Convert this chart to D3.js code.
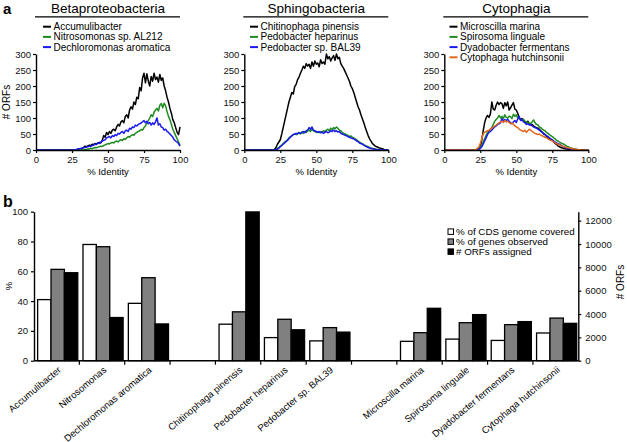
<!DOCTYPE html>
<html><head><meta charset="utf-8">
<script src="https://cdn.jsdelivr.net/npm/d3@7"></script>
<style>
body{margin:0;background:#fff;}
svg{display:block;font-family:"Liberation Sans",Arial,sans-serif;}
</style></head><body>
<svg id="c" width="627" height="442"></svg>
<script>
// ---------- Panel a data: # ORFs per % identity bin (0..100) ----------
const identityTicks = [0, 25, 50, 75, 100];
const orfTicks = [0, 50, 100, 150, 200, 250, 300];

const accumulibacter = [
0,0,0,0,0,0,0,0,0,0, 0,0,0,0,0,0,0,0,0,0, 0,0,0,0,0,0,0,0,1,2,
2,4,5,8,12,10,13,15,14,18, 17,20,19,22,24,22,30,45,40,55,
48,58,52,62,65,60,72,80,75,88, 92,85,105,110,100,125,135,128,150,142,
165,160,195,185,225,240,210,238,215,200, 230,215,240,220,228,212,236,218,225,200,
185,165,150,130,115,95,85,70,55,48, 72];
const nitrosomonas = [
0,0,0,0,0,0,0,0,0,0, 0,0,0,0,0,0,0,0,0,0, 0,0,0,0,0,0,0,0,0,0,
0,0,0,0,1,2,3,4,5,5, 6,8,7,9,10,12,11,14,16,18,
20,19,22,24,22,26,28,25,30,32, 30,35,33,38,42,40,45,48,46,52,
55,58,60,64,62,70,75,85,92,100, 110,105,118,125,130,122,140,145,132,146,
138,120,105,95,80,65,55,45,35,25, 15];
const dechloromonas = [
0,0,0,0,0,0,0,0,0,0, 0,0,0,0,0,0,0,0,0,0, 0,0,0,0,0,0,0,0,2,3,
4,5,6,7,8,9,10,12,11,14, 15,18,17,22,20,25,28,30,32,38,
40,42,38,45,42,48,45,52,50,55, 58,52,60,62,58,68,65,72,70,78,
75,80,82,85,88,92,85,90,82,86, 78,85,80,88,100,78,82,72,70,62,
65,58,55,50,45,40,32,28,25,20, 12];

const chitinophaga = [
0,0,0,0,0,0,0,0,0,0, 0,0,0,0,0,0,0,0,0,0, 0,2,8,18,25,32,50,70,90,110,
130,150,165,180,175,198,205,220,228,240, 250,262,255,270,262,268,255,275,262,278,
268,272,260,282,270,275,268,300,285,292, 278,288,295,280,300,285,290,270,262,255,
245,235,225,215,200,192,180,165,150,135, 125,110,98,85,70,58,45,35,28,20,
16,12,10,8,6,5,4,2,1,0, 0];
const pedoHeparinus = [
0,0,0,0,0,0,0,0,0,0, 0,0,0,0,0,0,0,0,0,0, 0,0,2,5,8,12,15,20,25,28,
32,38,42,45,48,50,48,52,55,50, 56,52,58,55,60,62,58,65,60,58,
55,57,54,58,56,60,58,62,65,60, 68,64,70,66,72,68,62,60,55,52,
50,48,45,42,44,40,38,35,32,28, 25,22,20,16,14,12,10,8,6,5,
4,3,2,1,1,0,0,0,0,0, 0];
const pedoBAL39 = [
0,0,0,0,0,0,0,0,0,0, 0,0,0,0,0,0,0,0,0,0, 0,0,1,3,6,10,14,18,22,26,
30,35,40,44,48,50,52,50,54,52, 55,58,54,60,62,70,65,72,62,60,
58,55,58,54,56,52,55,58,54,56, 60,58,62,58,60,56,58,52,50,48,
46,44,42,40,38,36,35,32,28,26, 22,20,18,15,12,10,8,6,5,4,
3,2,1,1,0,0,0,0,0,0, 0];

const microscilla = [
0,0,0,0,0,0,0,0,0,0, 0,0,0,0,0,0,0,0,0,0, 0,0,0,3,5,10,30,60,85,100,
108,102,112,150,128,125,140,150,142,148, 145,130,148,138,150,125,132,140,148,128,
125,115,100,95,98,92,88,85,90,82, 78,80,75,72,70,68,65,60,56,50,
48,42,40,35,32,30,25,20,18,12, 10,8,6,5,4,3,2,1,0,0,
0,0,0,0,0,0,0,0,0,0, 0];
const spirosoma = [
0,0,0,0,0,0,0,0,0,0, 0,0,0,0,0,0,0,0,0,0, 0,0,0,0,3,8,15,25,35,45,
55,60,65,70,80,90,95,100,108,100, 105,98,110,102,100,106,104,98,112,105,
110,100,98,95,92,96,90,88,86,85, 82,88,94,85,80,78,72,70,65,62,
60,55,52,48,45,42,38,35,30,28, 25,22,20,18,15,12,10,8,6,5,
4,3,2,1,0,0,0,0,0,0, 0];
const dyadobacter = [
0,0,0,0,0,0,0,0,0,0, 0,0,0,0,0,0,0,0,0,0, 0,0,0,0,2,5,10,18,28,38,
48,55,58,62,68,72,75,80,82,85, 98,90,95,92,96,90,85,82,88,92,
86,98,105,92,95,88,85,80,82,78, 80,75,72,70,68,65,62,58,55,52,
48,45,42,38,35,32,28,25,22,20, 18,15,12,10,8,6,5,4,3,2,
1,0,0,0,0,0,0,0,0,0, 0];
const cytophaga = [
0,0,0,0,0,0,0,0,0,0, 0,0,0,0,0,0,0,0,0,0, 0,0,2,5,10,20,35,50,55,58,
60,62,65,68,72,75,78,82,85,88, 90,86,92,88,90,86,82,85,80,76,
72,70,65,62,60,58,62,55,60,65, 62,58,55,52,50,48,50,46,44,42,
40,38,35,32,30,28,25,22,20,18, 16,14,12,10,9,8,7,6,5,4,
3,2,2,1,1,0,0,0,0,0, 0];

const panelTitles = ["Betaproteobacteria", "Sphingobacteria", "Cytophagia"];
const panelSeries = [
  [["Accumulibacter", accumulibacter, "#000000"],
   ["Nitrosomonas sp. AL212", nitrosomonas, "#1f8a1f"],
   ["Dechloromonas aromatica", dechloromonas, "#1a1aee"]],
  [["Chitinophaga pinensis", chitinophaga, "#000000"],
   ["Pedobacter heparinus", pedoHeparinus, "#1f8a1f"],
   ["Pedobacter sp. BAL39", pedoBAL39, "#1a1aee"]],
  [["Microscilla marina", microscilla, "#000000"],
   ["Spirosoma linguale", spirosoma, "#1f8a1f"],
   ["Dyadobacter fermentans", dyadobacter, "#1a1aee"],
   ["Cytophaga hutchinsonii", cytophaga, "#e2691f"]]
];

// ---------- Panel b data ----------
const groupNames = [
  ["Accumulibacter", "Nitrosomonas", "Dechloromonas aromatica"],
  ["Chitinophaga pinensis", "Pedobacter heparinus", "Pedobacter sp. BAL39"],
  ["Microscilla marina", "Spirosoma linguale", "Dyadobacter fermentans", "Cytophaga hutchinsonii"]
];
const pctCdsCovered   = [41, 78, 38.5, 24.5, 15.5, 13.3, 13, 14.5, 13.6, 18.6];
const pctGenesObserved = [61.3, 76.5, 55.7, 32.8, 27.8, 22.2, 18.8, 25.5, 24.2, 28.6];
const orfsAssigned    = [7540, 3700, 3150, 12750, 2650, 2450, 4490, 3950, 3350, 3200];
const pctTicks = [0, 20, 40, 60, 80, 100];
const orfAxisTicks = [0, 2000, 4000, 6000, 8000, 10000, 12000];
const barLegend = ["% of CDS genome covered", "% of genes observed", "# ORFs assigned"];

// ======================================================
const svg = d3.select("#c");
const FONT = "Liberation Sans, Arial, sans-serif";

svg.append("text").attr("x", 3).attr("y", 13.5).attr("font-size", 15).attr("font-weight", "bold").text("a");
svg.append("text").attr("x", 3).attr("y", 207).attr("font-size", 16).attr("font-weight", "bold").text("b");

const plotLeft = [36, 244.3, 444.3];
const plotW = 144, yTop = 54, yBot = 150;
const ident = d3.range(0, 101);

panelSeries.forEach((series, p) => {
  const x0 = plotLeft[p];
  const x = d3.scaleLinear().domain([0, 100]).range([x0, x0 + plotW]);
  const y = d3.scaleLinear().domain([0, 300]).range([yBot, yTop]);
  const g = svg.append("g");

  // title + underline
  g.append("text").attr("x", x0 + plotW / 2).attr("y", 13).attr("text-anchor", "middle")
    .attr("font-size", 13.5).text(panelTitles[p]);
  g.append("line").attr("x1", x0 - 1).attr("x2", x0 + plotW).attr("y1", 16.8).attr("y2", 16.8)
    .attr("stroke", "#000").attr("stroke-width", 1.3);

  // legend
  const lx = [43, 250, 449.5][p];
  series.forEach((s, i) => {
    const ly = 26.7 + i * 10.2;
    g.append("line").attr("x1", lx).attr("x2", lx + 8).attr("y1", ly).attr("y2", ly)
      .attr("stroke", s[2]).attr("stroke-width", 2);
    g.append("text").attr("x", lx + 10.5).attr("y", ly + 3.5).attr("font-size", 10).text(s[0]);
  });

  // lines
  series.forEach(s => {
    const line = d3.line().x((d, i) => x(ident[i])).y(d => y(d));
    g.append("path").datum(s[1]).attr("d", line).attr("fill", "none")
      .attr("stroke", s[2]).attr("stroke-width", 1.5).attr("stroke-linejoin", "round");
  });

  // axes
  const ya = g.append("g").attr("transform", `translate(${x0},0)`)
    .call(d3.axisLeft(y).tickValues(orfTicks).tickSize(3).tickPadding(2).tickSizeOuter(0));
  const xa = g.append("g").attr("transform", `translate(0,${yBot})`)
    .call(d3.axisBottom(x).tickValues(identityTicks).tickSize(3).tickPadding(3).tickSizeOuter(0));
  [ya, xa].forEach(a => {
    a.select(".domain").attr("stroke-width", 1.4);
    a.selectAll(".tick line").attr("stroke-width", 1.2);
    a.selectAll("text").attr("font-size", 9.5).attr("font-family", FONT).attr("fill", "#111");
  });

  g.append("text").attr("x", x0 + plotW / 2).attr("y", 175).attr("text-anchor", "middle")
    .attr("font-size", 9.5).text("% Identity");
  if (p === 0) {
    g.append("text").attr("transform", "translate(10,102) rotate(-90)").attr("text-anchor", "middle")
      .attr("font-size", 10).text("# ORFs");
  }
});

// ---------- Panel b ----------
const bLeft = 34, bRight = 578.3, bTop = 211.7, bBot = 360.7;
const slots = [];
groupNames.forEach((grp, gi) => {
  grp.forEach(n => slots.push(n));
  if (gi < groupNames.length - 1) slots.push("__gap" + gi);
});
const cats = groupNames.flat();
const xb = d3.scaleBand().domain(slots).range([bLeft, bRight]).padding(0);
const bw = xb.bandwidth();
const sub = d3.scaleBand().domain([0, 1, 2]).range([bw * 0.08, bw * 0.965]).padding(0);
const yPct = d3.scaleLinear().domain([0, 100]).range([bBot, bTop]);
const yOrf = d3.scaleLinear().domain([0, 12770]).range([bBot, bTop]);

const gb = svg.append("g");
const fills = ["#ffffff", "#808080", "#000000"];
cats.forEach((c, i) => {
  const vals = [[pctCdsCovered[i], yPct], [pctGenesObserved[i], yPct], [orfsAssigned[i], yOrf]];
  vals.forEach((v, k) => {
    const yv = v[1](v[0]);
    gb.append("rect").attr("x", xb(c) + sub(k)).attr("y", yv)
      .attr("width", sub.bandwidth()).attr("height", bBot - yv)
      .attr("fill", fills[k]).attr("stroke", "#000").attr("stroke-width", 1.3);
  });
});

// x axis line + ticks between categories
gb.append("line").attr("x1", bLeft).attr("x2", bRight).attr("y1", bBot).attr("y2", bBot)
  .attr("stroke", "#000").attr("stroke-width", 1.4);
slots.forEach((s, i) => {
  if (i === 0) return;
  const xx = xb(s);
  gb.append("line").attr("x1", xx).attr("x2", xx).attr("y1", bBot).attr("y2", bBot + 4)
    .attr("stroke", "#000").attr("stroke-width", 1.2);
});
// category labels
cats.forEach(c => {
  const cx = xb(c) + bw / 2 + 5;
  gb.append("text").attr("transform", `translate(${cx},371) rotate(-40)`)
    .attr("text-anchor", "end").attr("font-size", 9.5).text(c);
});

const la = gb.append("g").attr("transform", `translate(${bLeft},0)`)
  .call(d3.axisLeft(yPct).tickValues(pctTicks).tickSize(3).tickPadding(3).tickSizeOuter(0));
const ra = gb.append("g").attr("transform", `translate(${bRight},0)`)
  .call(d3.axisRight(yOrf).tickValues(orfAxisTicks).tickFormat(d3.format("d"))
    .tickSize(3).tickPadding(4).tickSizeOuter(0));
[la, ra].forEach(a => {
  a.select(".domain").attr("stroke-width", 1.4);
  a.selectAll(".tick line").attr("stroke-width", 1.2);
  a.selectAll("text").attr("font-size", 9.5).attr("font-family", FONT).attr("fill", "#111");
});
gb.append("text").attr("transform", "translate(12,286) rotate(-90)").attr("text-anchor", "middle")
  .attr("font-size", 9.5).text("%");
gb.append("text").attr("transform", "translate(624,282) rotate(-90)").attr("text-anchor", "middle")
  .attr("font-size", 10).text("# ORFs");

// legend
barLegend.forEach((t, i) => {
  const ly = 231.7 + i * 10;
  gb.append("rect").attr("x", 448).attr("y", ly - 2.8).attr("width", 5.5).attr("height", 5.5)
    .attr("fill", fills[i]).attr("stroke", "#000").attr("stroke-width", 1);
  gb.append("text").attr("x", 456).attr("y", ly + 3.3).attr("font-size", 9.8).text(t);
});
</script>
</body></html>
